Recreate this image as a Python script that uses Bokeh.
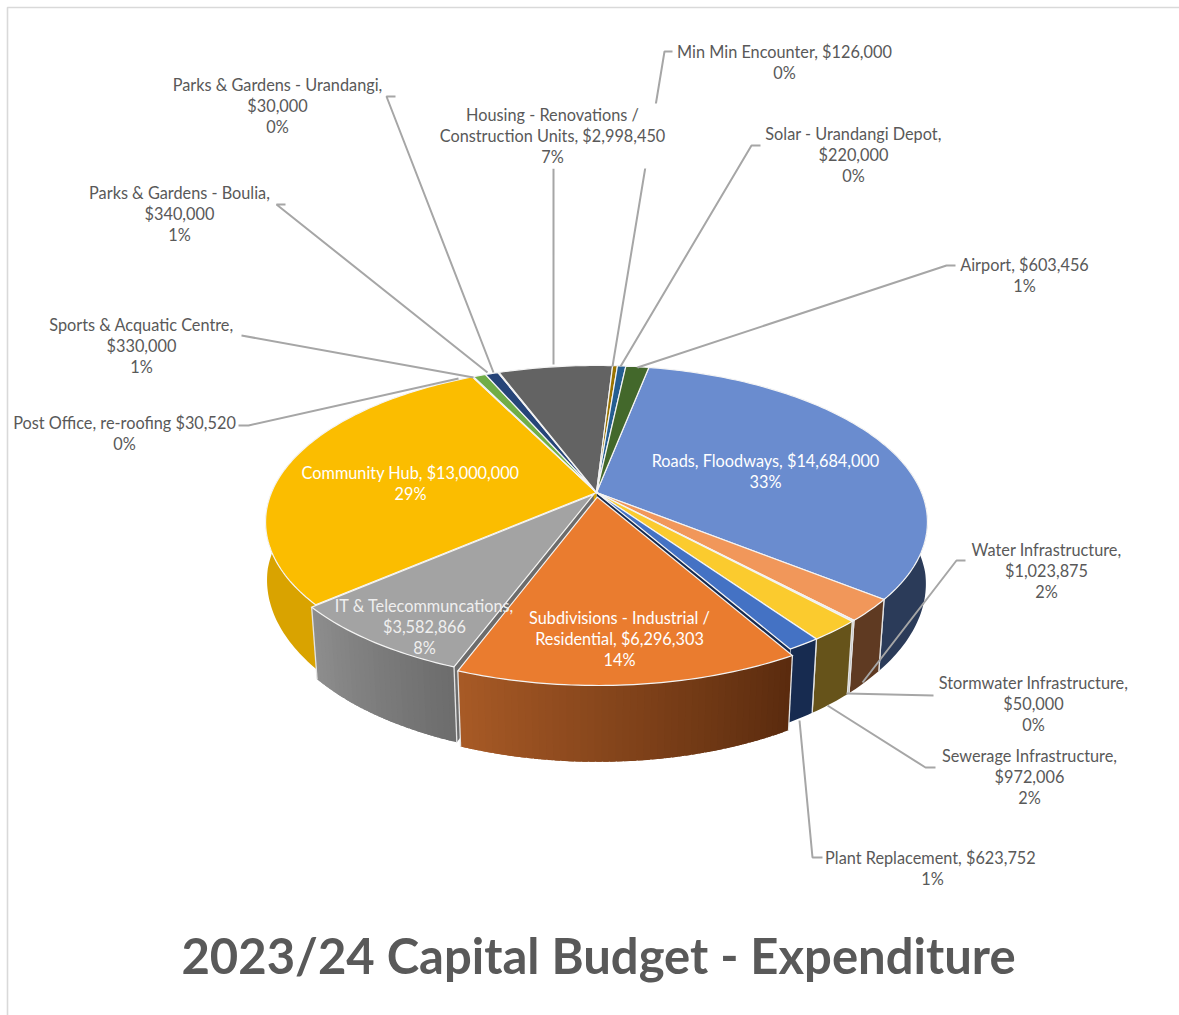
import numpy as np
from bokeh.plotting import figure
from bokeh.models import Range1d
from bokeh.core.properties import value
from bokeh.embed import file_html
from bokeh.resources import INLINE

TITLE = "2023/24 Capital Budget - Expenditure"
categories = ["Roads, Floodways", "Water Infrastructure", "Stormwater Infrastructure",
              "Sewerage Infrastructure", "Plant Replacement", "Subdivisions - Industrial / Residential",
              "IT & Telecommuncations", "Community Hub", "Post Office, re-roofing",
              "Sports & Acquatic Centre", "Parks & Gardens - Boulia", "Parks & Gardens - Urandangi",
              "Housing - Renovations / Construction Units", "Min Min Encounter",
              "Solar - Urandangi Depot", "Airport"]
amounts = [14684000, 1023875, 50000, 972006, 623752, 6296303, 3582866, 13000000,
           30520, 330000, 340000, 30000, 2998450, 126000, 220000, 603456]
top_colors = ["#6A8CCF", "#F1975A", "#C9C9C9", "#FBCB2E", "#4472C4", "#EA7C2F", "#A3A3A3", "#FBBD00",
              "#2E75B6", "#70AD47", "#264478", "#9E480E", "#636363", "#997300", "#255E91", "#43682B"]
side_left = ["#2B3B59", "#5F3A22", "#8A8A8A", "#66531A", "#172B50", "#A85A26", "#8E8E8E", "#D9A300",
             "#1C4670", "#4F7A32", "#1A2F55", "#6F320A", "#444444", "#6B5100", "#1A4268", "#2F491E"]
side_right = ["#2B3B59", "#5F3A22", "#8A8A8A", "#66531A", "#172B50", "#5A2B0E", "#6C6C6C", "#D9A300",
              "#1C4670", "#4F7A32", "#1A2F55", "#6F320A", "#444444", "#6B5100", "#1A4268", "#2F491E"]

label_lines = [
    ["Min Min Encounter, $126,000", "0%"],
    ["Housing - Renovations /", "Construction Units, $2,998,450", "7%"],
    ["Parks & Gardens - Urandangi,", "$30,000", "0%"],
    ["Solar - Urandangi Depot,", "$220,000", "0%"],
    ["Parks & Gardens - Boulia,", "$340,000", "1%"],
    ["Airport, $603,456", "1%"],
    ["Sports & Acquatic Centre,", "$330,000", "1%"],
    ["Post Office, re-roofing $30,520", "0%"],
    ["Water Infrastructure,", "$1,023,875", "2%"],
    ["Stormwater Infrastructure,", "$50,000", "0%"],
    ["Sewerage Infrastructure,", "$972,006", "2%"],
    ["Plant Replacement,  $623,752", "1%"],
    ["Roads, Floodways, $14,684,000", "33%"],
    ["Community Hub, $13,000,000", "29%"],
    ["Subdivisions - Industrial /", "Residential, $6,296,303", "14%"],
    ["IT & Telecommuncations,", "$3,582,866", "8%"],
]
label_cx = [784, 552, 277, 853, 179, 1024, 141, 124, 1046, 1033, 1029, 932, 765, 410, 619, 424]
label_y0 = [51, 114, 84, 133, 192, 264, 324, 422, 549, 682, 755, 857, 460, 472, 617, 605]
label_col = ["#595959"] * 12 + ["#FFFFFF", "#FFFFFF", "#FFFFFF", "#EFEFEF"]
LINE_STEP = 21.2

leaders = [
    ([672, 664, 612], [51, 51, 366]),
    ([760, 751, 620], [145, 145, 366]),
    ([955, 946, 637], [265, 265, 367]),
    ([553, 553], [168, 364]),
    ([395, 386, 493], [96, 96, 372]),
    ([285, 276, 487], [204, 204, 372]),
    ([241, 473], [335, 377]),
    ([238, 248, 458], [425, 425, 378]),
    ([965, 956, 862], [560, 560, 682]),
    ([933, 846], [695, 693]),
    ([935, 925, 827], [767, 767, 705]),
    ([822, 812, 799], [857, 857, 720]),
]

# projection of the pie disk
CX, CY = 596.0, 492.0
K, A, B = -0.1885, 151.0, 325.0
START = 11.0
EXPLODE = {5: 0.03, 6: 0.015}
DEPTH_ADJ = {7: -4.0}
VP = 3800.0

def proj(u, v):
    d = 1 + K * v
    return CX + B * u / d, CY + A * v / d

def down(x, y, v, adj=0.0):
    dy = 64 + 12 * v + adj
    inset = min(1.0, max(0.15, v / 0.65))
    return x - (x - CX) * dy / VP * inset, y + dy

def rim_pt(th, e_u=0.0, e_v=0.0, adj=0.0):
    r = np.radians(th)
    u, v = np.sin(r) + e_u, -np.cos(r) + e_v
    x, y = proj(u, v)
    xb, yb = down(x, y, v, adj)
    return x, y, xb, yb

def hex2rgb(h):
    return np.array([int(h[i:i + 2], 16) for i in (1, 3, 5)], float)

def mix(a, b, t):
    c = hex2rgb(a) * (1 - t) + hex2rgb(b) * t
    return "#%02x%02x%02x" % tuple(int(round(x)) for x in c)

total = float(sum(amounts))
sweeps = [a / total * 360 for a in amounts]
starts = list(START + np.cumsum([0] + sweeps[:-1]))

p = figure(width=1179, height=1015, x_range=Range1d(0, 1179), y_range=Range1d(1015, 0),
           output_backend="svg", toolbar_location=None, min_border=0)
p.axis.visible = False
p.grid.visible = False
p.outline_line_color = None

def offset(i):
    e = EXPLODE.get(i, 0.0)
    mid = np.radians(starts[i] + sweeps[i] / 2)
    return e * np.sin(mid), -e * np.cos(mid)

def draw_rim(i):
    a0, a1 = starts[i], starts[i] + sweeps[i]
    a0c, a1c = max(a0, 70.0), min(a1, 290.0)
    if a1c <= a0c:
        return
    eu, ev = offset(i)
    adj = DEPTH_ADJ.get(i, 0.0)
    uniform = side_left[i] == side_right[i]
    if uniform:
        th = np.linspace(a0c, a1c, int(a1c - a0c) + 3)
        pts = [rim_pt(t, eu, ev, adj) for t in th]
        xs = [q[0] for q in pts] + [q[2] for q in pts[::-1]]
        ys = [q[1] for q in pts] + [q[3] for q in pts[::-1]]
        p.patch(xs, ys, fill_color=side_left[i], line_color=None)
    else:
        n = max(2, int((a1c - a0c) / 1.0) + 1)
        th = np.linspace(a0c, a1c, n)
        step = th[1] - th[0]
        for j in range(n - 1):
            # every strip overlaps the next one, so that no seams show
            t1 = min(th[j + 1] + 0.8 * step, a1c)
            x0, y0, xb0, yb0 = rim_pt(th[j], eu, ev, adj)
            xm, ym, xbm, ybm = rim_pt((th[j] + t1) / 2, eu, ev, adj)
            x1, y1, xb1, yb1 = rim_pt(t1, eu, ev, adj)
            c = mix(side_right[i], side_left[i], (j + .5) / (n - 1))
            p.patch([x0, xm, x1, xb1, xbm, xb0], [y0, ym, y1, yb1, ybm, yb0], fill_color=c, line_color=None)
    # light vertical edges
    for a in (a0, a1):
        if 70 <= a <= 290 and i != 7:
            x, y, xb, yb = rim_pt(a, eu, ev, adj)
            p.line([x, xb], [y, yb], line_color="#E4E4E4", line_width=1.3)

def draw_wall(i, ang):
    eu, ev = offset(i)
    adj = DEPTH_ADJ.get(i, 0.0)
    x, y, xb, yb = rim_pt(ang, eu, ev, adj)
    ax, ay = proj(eu, ev)
    axb, ayb = down(ax, ay, ev, adj)
    p.patch([ax, x, xb, axb], [ay, y, yb, ayb], fill_color=side_right[i], line_color=None)

def draw_top(i):
    a0, a1 = starts[i], starts[i] + sweeps[i]
    eu, ev = offset(i)
    th = np.radians(np.linspace(a0, a1, max(3, int(sweeps[i]) + 2)))
    rx, ry = proj(np.sin(th) + eu, -np.cos(th) + ev)
    ax, ay = proj(eu, ev)
    p.patch(list(rx) + [ax], list(ry) + [ay], fill_color=top_colors[i],
            line_color="#F4F4F4", line_width=1.2, line_join="miter")

sub, it = 5, 6
for i in range(len(amounts)):
    if i not in (sub, it):
        draw_rim(i)
draw_wall(sub - 1, starts[sub])
draw_wall(it + 1, starts[it + 1])
draw_wall(it, starts[it])
draw_rim(it)
draw_rim(sub)
for i in range(len(amounts)):
    if i not in (sub, it):
        draw_top(i)
draw_top(it)
draw_top(sub)

# leader lines
p.multi_line([l[0] for l in leaders], [l[1] for l in leaders], line_color="#A6A6A6", line_width=2)

# label background of the Housing label interrupts the Min Min leader
p.quad(left=[441], right=[663], top=[103], bottom=[168], fill_color="white", line_color=None)

# labels
tx, ty, tt, tc = [], [], [], []
for lines, cx, y0, col in zip(label_lines, label_cx, label_y0, label_col):
    for k, s in enumerate(lines):
        tx.append(cx); ty.append(y0 + k * LINE_STEP); tt.append(s); tc.append(col)
p.text(tx, ty, text=tt, text_color=tc, text_font=value("Lato"), text_font_size="16.3px",
       text_align="center", text_baseline="middle")

p.text([598], [954], text=[TITLE], text_color="#595959", text_font=value("Lato"),
       text_font_style="bold", text_font_size="49px", text_align="center", text_baseline="middle")

# frame of the original picture
p.line([7, 7, 1179], [1015, 7, 7], line_color="#D9D9D9", line_width=1.6)

open("out.html", "w").write(file_html(p, INLINE))
